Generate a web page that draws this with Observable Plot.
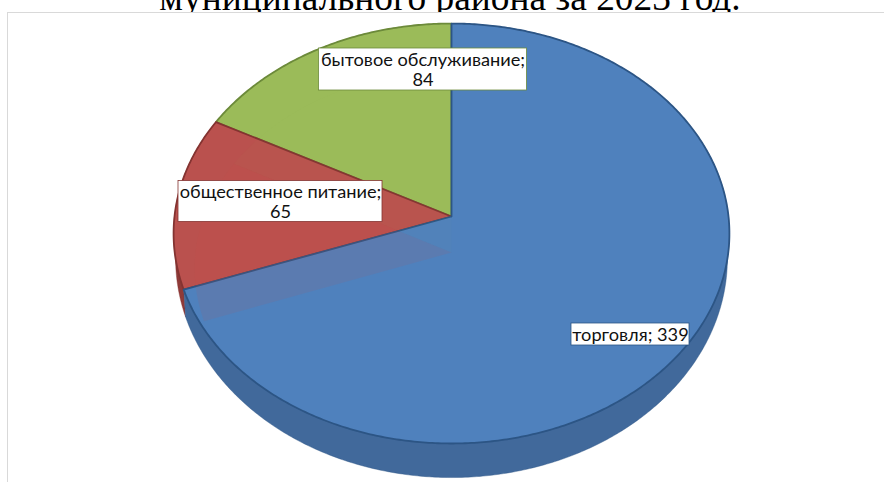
<!DOCTYPE html>
<html><head><meta charset="utf-8">
<script src="https://cdn.jsdelivr.net/npm/d3@7"></script>
<script src="https://cdn.jsdelivr.net/npm/@observablehq/plot@0.6"></script>
<style>
html,body{margin:0;padding:0;background:#fff;overflow:hidden;width:884px;height:482px}
#title{position:absolute;left:8px;width:884px;top:-24px;text-align:center;font:37.4px/1.2 "Liberation Serif",serif;color:#000;white-space:nowrap}
#frame{position:absolute;left:7px;top:12px;width:890px;height:490px;background:#fff;border:1px solid #d9d9d9}
#chart{position:absolute;left:0;top:0}
</style></head><body>
<div id="title">муниципального района за 2023 год.</div>
<div id="frame"></div>
<div id="chart"></div>
<script>
const categories = ["торговля", "общественное питание", "бытовое обслуживание"];
const values = [339, 65, 84];
const topColors = ["#4f81bd", "#ba514e", "#9bbb59"];
const edgeColors = ["#2c5585", "#843331", "#6c8a3a"];
const wallColors = ["#41699b", "#8f3a38", "#7a9645"];
const ghostColors = ["#cc4a48", "#cc4a48", "#a8c860"];
const ghostOpacity = [0, 0.1, 0.03];
const labelLines = ["торговля; 339", "общественное питание;\n65", "бытовое обслуживание;\n84"];
const labelAt = [[179, 118, 59, 11], [-171, -15, 102, 20.5], [-28.5, -147, 104, 21]];

const W = 884, H = 482, apexX = 451, apexY = 216;
const persp = -0.081;
const topFace = {k: 277, a: 208.6, b: 0};
const base = {k: 275, a: 215.6, b: 24.3};
const ghost = {k: 256, a: 193, b: 36};

const arcs = d3.pie().sort(null).value(d => d)(values);
function project(theta, f) {
  const x = Math.sin(theta), y = -Math.cos(theta), d = 1 + persp * y;
  return {x: f.k * x / d, y: (f.a * y + f.b) / d};
}
function rim(a, f) {
  const n = Math.ceil((a.endAngle - a.startAngle) / 0.01);
  return d3.range(n + 1).map(i => project(a.startAngle + (a.endAngle - a.startAngle) * i / n, f));
}
function wedge(a, f) {
  const p = {x: 0, y: f.b};
  return [p, ...rim(a, f), p];
}
function wall(a) {
  const r = rim(a, topFace), s = rim(a, base).reverse();
  return [...r, ...s, r[0]];
}
const xy = {x: "x", y: "y"};
const order = [2, 1, 0];
const marks = [];
order.forEach(i => marks.push(Plot.line(wall(arcs[i]), {...xy, fill: wallColors[i], stroke: edgeColors[i], strokeWidth: 0.8, strokeOpacity: 0.5})));
order.forEach(i => marks.push(Plot.line(wedge(arcs[i], topFace), {...xy, fill: topColors[i], stroke: edgeColors[i], strokeWidth: 1.8})));
[1, 2].forEach(i => marks.push(Plot.line(wedge(arcs[i], ghost), {...xy, fill: ghostColors[i], fillOpacity: ghostOpacity[i], stroke: "none"})));
const labels = categories.map((c, i) => ({name: c, text: labelLines[i], x: labelAt[i][0], y: labelAt[i][1], hw: labelAt[i][2], hh: labelAt[i][3], color: edgeColors[i]}));
marks.push(Plot.rect(labels, {x1: d => d.x - d.hw, x2: d => d.x + d.hw, y1: d => d.y - d.hh, y2: d => d.y + d.hh, fill: "#fff", stroke: d => d.color, strokeWidth: 0.8}));
marks.push(Plot.text(labels, {x: "x", y: "y", text: "text", fill: "#111", fontSize: 18.2, fontFamily: "Lato, sans-serif", lineHeight: 1.1, textAnchor: "middle"}));

const plot = Plot.plot({
  width: W, height: H, margin: 0,
  style: {background: "transparent"},
  x: {domain: [-apexX, W - apexX], axis: null},
  y: {domain: [H - apexY, -apexY], axis: null},
  color: {type: "identity"},
  marks
});
document.getElementById("chart").append(plot);
</script>
</body></html>
